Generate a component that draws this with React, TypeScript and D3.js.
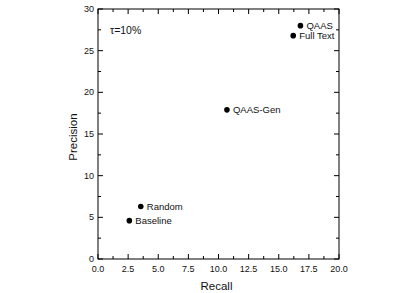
import { useEffect, useRef } from "react";
import * as d3 from "d3";

// points
const methods = ["QAAS", "Full Text", "QAAS-Gen", "Random", "Baseline"];
const recall = [16.8, 16.2, 10.7, 3.55, 2.6];
const precision = [28.0, 26.8, 17.9, 6.3, 4.6];

const xTicks = [0, 2.5, 5, 7.5, 10, 12.5, 15, 17.5, 20];
const yTicks = [0, 5, 10, 15, 20, 25, 30];

export default function App() {
  const ref = useRef<SVGSVGElement>(null);

  useEffect(() => {
    const svg = d3.select(ref.current);
    svg.selectAll("*").remove();

    const m = { left: 98, right: 339, top: 9, bottom: 259 };
    const x = d3.scaleLinear().domain([0, 20]).range([m.left, m.right]);
    const y = d3.scaleLinear().domain([0, 30]).range([m.bottom, m.top]);
    const font = "Liberation Sans, Arial, sans-serif";

    const g = svg.append("g").attr("font-family", font).attr("fill", "#111");

    // frame
    g.append("rect")
      .attr("x", m.left)
      .attr("y", m.top)
      .attr("width", m.right - m.left)
      .attr("height", m.bottom - m.top)
      .attr("fill", "none")
      .attr("stroke", "#000")
      .attr("stroke-width", 1);

    // ticks on all four sides, pointing in
    const xMinor = d3.range(0, 20.01, 1.25).filter((v) => !xTicks.includes(v));
    const yMinor = d3.range(0, 30.01, 2.5).filter((v) => !yTicks.includes(v));
    const tickG = g.append("g").attr("stroke", "#000").attr("stroke-width", 1);

    const xAll = [
      ...xTicks.map((v) => ({ v, len: 5 })),
      ...xMinor.map((v) => ({ v, len: 3 })),
    ];
    xAll.forEach(({ v, len }) => {
      tickG.append("line").attr("x1", x(v)).attr("x2", x(v)).attr("y1", m.bottom).attr("y2", m.bottom - len);
      tickG.append("line").attr("x1", x(v)).attr("x2", x(v)).attr("y1", m.top).attr("y2", m.top + len);
    });
    const yAll = [
      ...yTicks.map((v) => ({ v, len: 5 })),
      ...yMinor.map((v) => ({ v, len: 3 })),
    ];
    yAll.forEach(({ v, len }) => {
      tickG.append("line").attr("y1", y(v)).attr("y2", y(v)).attr("x1", m.left).attr("x2", m.left + len);
      tickG.append("line").attr("y1", y(v)).attr("y2", y(v)).attr("x1", m.right).attr("x2", m.right - len);
    });

    // tick labels
    g.append("g")
      .selectAll("text")
      .data(xTicks)
      .join("text")
      .attr("x", (d) => x(d))
      .attr("y", m.bottom + 13)
      .attr("text-anchor", "middle")
      .attr("font-size", 9)
      .text((d) => d3.format(".1f")(d));

    g.append("g")
      .selectAll("text")
      .data(yTicks)
      .join("text")
      .attr("x", m.left - 4)
      .attr("y", (d) => y(d) + 3)
      .attr("text-anchor", "end")
      .attr("font-size", 9)
      .text((d) => d);

    // axis titles
    g.append("text")
      .attr("x", (m.left + m.right) / 2 - 2)
      .attr("y", 290)
      .attr("text-anchor", "middle")
      .attr("font-size", 11.5)
      .text("Recall");
    g.append("text")
      .attr("transform", `translate(77,${(m.top + m.bottom) / 2 + 3}) rotate(-90)`)
      .attr("text-anchor", "middle")
      .attr("font-size", 11.5)
      .text("Precision");

    g.append("text")
      .attr("x", 110)
      .attr("y", 34)
      .attr("font-size", 10.5)
      .text("τ=10%");

    // points
    const pts = methods.map((name, i) => ({ name, r: recall[i], p: precision[i] }));
    const node = g
      .append("g")
      .selectAll("g")
      .data(pts)
      .join("g")
      .attr("transform", (d) => `translate(${x(d.r)},${y(d.p)})`);
    node.append("circle").attr("r", 2.8).attr("fill", "#000");
    node
      .append("text")
      .attr("x", 6)
      .attr("dy", "0.35em")
      .attr("font-size", 9.5)
      .text((d) => d.name);
  }, []);

  return <svg ref={ref} width={414} height={293} style={{ display: "block", position: "absolute", left: 0, top: 0 }} />;
}
